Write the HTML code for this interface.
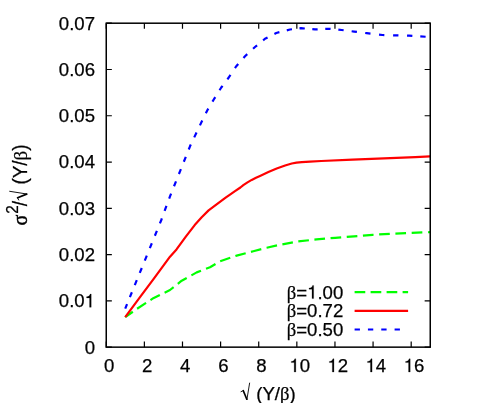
<!DOCTYPE html>
<html><head><meta charset="utf-8"><title>plot</title>
<style>
html,body{margin:0;padding:0;background:#fff;}
svg{display:block;will-change:transform;}
text{font-family:"Liberation Sans",sans-serif;font-size:18.6px;fill:#000;stroke:#000;stroke-width:0.25px;}
.sym{font-family:"Liberation Serif",serif;}
</style></head><body>
<svg width="479" height="403" viewBox="0 0 479 403">

<path d="M125.20,317.20L132.84,311.75M137.10,308.74L146.05,302.92M150.46,300.05L153.30,298.20L159.84,294.99M164.60,292.65L170.00,290.00L173.64,287.11M177.82,283.79L181.70,280.70L186.70,277.94M191.39,275.34L196.70,272.40L200.99,270.75M206.03,268.82L210.00,267.30L215.50,264.00M220.16,261.25L230.26,257.80M235.40,256.04L236.70,255.60L245.69,253.22M250.96,251.82L253.30,251.20L261.30,249.17M266.61,247.82L266.70,247.80L277.00,245.42M282.39,244.33L292.88,242.38M298.30,241.42L308.91,240.24M314.40,239.62L316.40,239.40L325.03,238.67M330.55,238.20L335.20,237.80L341.18,237.32M346.73,236.88L354.00,236.30L357.36,236.03M362.92,235.58L372.70,234.80L373.56,234.75M379.14,234.42L389.79,233.80M395.39,233.53L406.05,233.08M411.67,232.85L422.34,232.47M427.98,232.27L430.00,232.20" fill="none" stroke="#00ff00" stroke-width="2.2" stroke-linejoin="round"/>
<polyline points="125.20,317.20 140.00,297.20 153.30,279.40 170.00,256.70 176.50,249.40 186.00,236.40 194.70,225.10 201.70,217.30 208.60,210.40 215.60,205.20 226.00,197.40 230.00,194.60 235.00,191.20 240.40,187.50 243.30,185.20 247.50,182.40 251.70,179.90 256.00,177.80 260.00,176.00 268.40,172.10 276.70,168.50 285.10,165.50 291.80,163.50 296.50,162.60 301.80,162.10 310.00,161.60 321.30,161.00 352.60,159.60 384.00,158.30 415.30,157.10 430.00,156.40" fill="none" stroke="#ff0000" stroke-width="2.2" stroke-linejoin="round"/>
<path d="M125.20,308.70L127.06,304.12M129.88,297.21L131.89,292.27M134.79,285.15L136.80,280.21M139.77,272.91L141.78,267.97M144.79,260.57L146.80,255.63M149.83,248.17L151.84,243.23M154.88,235.77L156.89,230.84M159.91,223.41L161.30,220.00L161.87,218.45M164.61,210.97L166.45,205.97M169.18,198.54L170.00,196.30L171.09,193.56M174.02,186.25L176.00,181.30M178.92,174.01L180.00,171.30L180.90,169.06M183.82,161.76L185.80,156.81M188.73,149.48L190.00,146.30L190.82,144.58M194.23,137.40L196.52,132.59M199.95,125.36L202.24,120.55M205.83,113.33L207.50,110.00L208.32,108.62M212.47,101.66L213.75,99.50L215.25,97.11M219.56,90.21L221.25,87.50L222.53,85.79M227.41,79.29L228.75,77.50L230.47,74.92M234.96,68.19L236.25,66.25L238.22,63.99M243.51,57.96L245.00,56.25L247.25,54.17M253.07,48.79L255.00,47.00L257.08,45.28M263.11,40.31L265.00,38.75L267.56,37.44M274.41,33.94L276.25,33.00L279.41,32.19M286.78,30.32L290.00,29.50L291.99,29.26M299.49,28.38L301.00,28.20L304.79,28.52M312.31,29.17L315.00,29.40L317.63,29.29M325.26,28.96L329.00,28.80L330.58,28.95M338.35,29.68L341.70,30.00L343.65,30.25M351.64,31.27L354.20,31.60L356.92,31.95M365.20,33.01L366.70,33.20L370.49,33.63M379.04,34.62L382.40,35.00L384.35,35.06M393.10,35.30L396.50,35.40L398.43,35.45M407.04,35.65L409.00,35.70L412.36,35.91M420.30,36.40L425.62,36.73" fill="none" stroke="#0000ff" stroke-width="2.2" stroke-linejoin="round"/>
<line x1="354.6" y1="292.2" x2="408.1" y2="292.2" stroke="#00ff00" stroke-width="2.2" stroke-dasharray="10.67 5.33"/>
<line x1="354.6" y1="310.8" x2="408.1" y2="310.8" stroke="#ff0000" stroke-width="2.2"/>
<line x1="354.6" y1="329.5" x2="401" y2="329.5" stroke="#0000ff" stroke-width="2.2" stroke-dasharray="5.33 8"/>
<path d="M106.25,347.15v-5.6M106.25,23.20v5.6M144.37,347.15v-5.6M144.37,23.20v5.6M182.49,347.15v-5.6M182.49,23.20v5.6M220.60,347.15v-5.6M220.60,23.20v5.6M258.72,347.15v-5.6M258.72,23.20v5.6M296.84,347.15v-5.6M296.84,23.20v5.6M334.96,347.15v-5.6M334.96,23.20v5.6M373.07,347.15v-5.6M373.07,23.20v5.6M411.19,347.15v-5.6M411.19,23.20v5.6M106.25,347.15h5.6M430.25,347.15h-5.6M106.25,300.87h5.6M430.25,300.87h-5.6M106.25,254.59h5.6M430.25,254.59h-5.6M106.25,208.31h5.6M430.25,208.31h-5.6M106.25,162.04h5.6M430.25,162.04h-5.6M106.25,115.76h5.6M430.25,115.76h-5.6M106.25,69.48h5.6M430.25,69.48h-5.6M106.25,23.20h5.6M430.25,23.20h-5.6" stroke="#000" stroke-width="1.2" fill="none"/>
<rect x="106.25" y="23.2" width="324.00" height="323.95" fill="none" stroke="#000" stroke-width="1.5"/>
<text x="84.66" y="353.55">0</text>
<text x="58.80 69.14 74.31" y="307.27">0.0</text><path transform="translate(84.66,307.27) scale(0.01860,-0.01860)" d="M264,0V505H104V568C190,572 272,592 296,709H352V0Z" stroke="#000" stroke-width="13"/>
<text x="58.80 69.14 74.31 84.66" y="260.99">0.02</text>
<text x="58.80 69.14 74.31 84.66" y="214.71">0.03</text>
<text x="58.80 69.14 74.31 84.66" y="168.44">0.04</text>
<text x="58.80 69.14 74.31 84.66" y="122.16">0.05</text>
<text x="58.80 69.14 74.31 84.66" y="75.88">0.06</text>
<text x="58.80 69.14 74.31 84.66" y="29.60">0.07</text>
<text x="103.88" y="372.00">0</text>
<text x="142.00" y="372.00">2</text>
<text x="180.11" y="372.00">4</text>
<text x="218.23" y="372.00">6</text>
<text x="256.35" y="372.00">8</text>
<text x="299.64" y="372.00">0</text><path transform="translate(289.29,372.00) scale(0.01860,-0.01860)" d="M264,0V505H104V568C190,572 272,592 296,709H352V0Z" stroke="#000" stroke-width="13"/>
<text x="337.76" y="372.00">2</text><path transform="translate(327.41,372.00) scale(0.01860,-0.01860)" d="M264,0V505H104V568C190,572 272,592 296,709H352V0Z" stroke="#000" stroke-width="13"/>
<text x="375.87" y="372.00">4</text><path transform="translate(365.53,372.00) scale(0.01860,-0.01860)" d="M264,0V505H104V568C190,572 272,592 296,709H352V0Z" stroke="#000" stroke-width="13"/>
<text x="413.99" y="372.00">6</text><path transform="translate(403.65,372.00) scale(0.01860,-0.01860)" d="M264,0V505H104V568C190,572 272,592 296,709H352V0Z" stroke="#000" stroke-width="13"/>
<text x="307.10" y="298.6" text-anchor="end"><tspan class="sym">&#946;</tspan>=</text><text x="317.44 322.61 332.96" y="298.60">.00</text><path transform="translate(307.10,298.60) scale(0.01860,-0.01860)" d="M264,0V505H104V568C190,572 272,592 296,709H352V0Z" stroke="#000" stroke-width="13"/>
<text x="307.10" y="317.3" text-anchor="end"><tspan class="sym">&#946;</tspan>=</text><text x="307.10 317.44 322.61 332.96" y="317.30">0.72</text>
<text x="307.10" y="335.9" text-anchor="end"><tspan class="sym">&#946;</tspan>=</text><text x="307.10 317.44 322.61 332.96" y="335.90">0.50</text>
<g transform="translate(241,399.6)"><g stroke="#000" fill="none" stroke-linecap="round" stroke-linejoin="round"><path d="M0,-7.9L2.2,-9.0" stroke-width="0.9"/><path d="M2.3,-8.9L5.8,-0.4" stroke-width="1.7"/><path d="M5.9,0L8.6,-16.5" stroke-width="0.9"/></g><text x="15.2" y="0">(Y/<tspan class="sym">&#946;</tspan>)</text></g>
<g transform="translate(27.0,225.3) rotate(-90) scale(1.015,1.05)"><text x="-0.3" y="-0.2" class="sym" style="font-size:19.8px;stroke-width:0.45px">&#963;</text><text x="11.3" y="-8.7" style="font-size:15.1px">2</text><text x="18.8" y="0">/</text><g transform="translate(24.9,0)"><g stroke="#000" fill="none" stroke-linecap="round" stroke-linejoin="round"><path d="M0,-7.9L2.2,-9.0" stroke-width="0.9"/><path d="M2.3,-8.9L5.8,-0.4" stroke-width="1.7"/><path d="M5.9,0L8.6,-16.5" stroke-width="0.9"/></g></g><text x="40.2" y="0">(Y/<tspan class="sym">&#946;</tspan>)</text></g>
</svg></body></html>
